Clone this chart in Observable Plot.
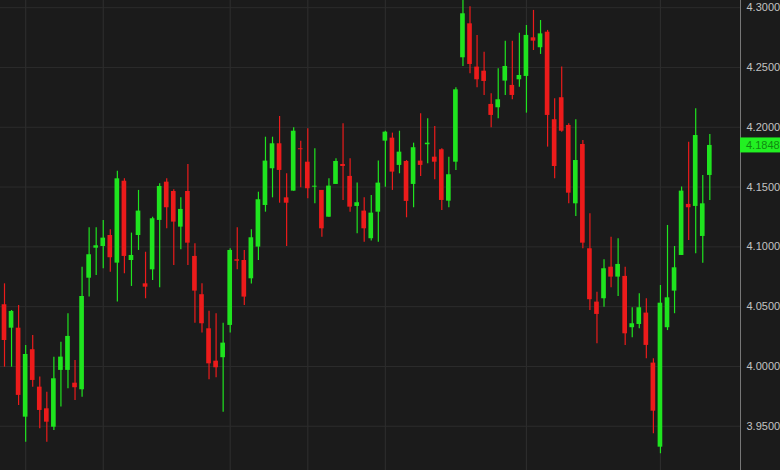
<!DOCTYPE html>
<html>
<head>
<meta charset="utf-8">
<script src="https://cdn.jsdelivr.net/npm/d3@7"></script>
<script src="https://cdn.jsdelivr.net/npm/@observablehq/plot@0.6"></script>
<style>
  html, body { margin: 0; padding: 0; background: #1b1b1b; }
  #chart { width: 780px; height: 470px; overflow: hidden; }
</style>
</head>
<body>
<div id="chart"></div>
<script>
// OHLC candles (oldest to newest)
const opens = [4.0516,4.0320,4.0320,3.9576,4.0140,3.9827,3.9646,3.9492,3.9967,3.9967,
  3.9860,3.9805,4.0738,4.0989,4.1003,4.1095,4.0864,4.1549,4.0886,4.1095,
  4.0691,4.0808,4.1221,4.1541,4.1463,4.1165,4.1463,4.0920,4.0600,4.0315,
  4.0044,4.0073,4.0343,4.0892,4.0886,4.0733,4.0998,4.1346,4.1653,4.1862,
  4.1410,4.1466,4.1820,4.1708,4.1499,4.1472,4.1248,4.1522,4.1689,4.1589,
  4.1338,4.1299,4.1068,4.1290,4.1884,4.1909,4.1681,4.1714,4.1522,4.1717,
  4.1854,4.1750,4.1812,4.1382,4.1708,4.2581,4.2865,4.2503,4.2469,4.2191,
  4.2163,4.2386,4.2350,4.2397,4.2425,4.2748,4.2665,4.2795,4.2063,4.2247,
  4.2015,4.1360,4.1856,4.0984,4.0538,4.0566,4.0830,4.0747,4.0753,4.0324,
  4.0351,4.0446,4.0028,3.9325,4.0324,4.0630,4.0928,4.1355,4.1338,4.1087,
  4.1597];
const highs = [4.0691,4.0468,4.0510,4.0176,4.0259,3.9911,3.9785,4.0078,4.0203,4.0441,
  4.0050,4.0830,4.1160,4.1160,4.1220,4.1143,4.1633,4.1570,4.1115,4.1472,
  4.0955,4.1248,4.1528,4.1570,4.1477,4.1410,4.1689,4.1026,4.0691,4.0462,
  4.0441,4.0362,4.0984,4.1160,4.0970,4.1143,4.1457,4.1917,4.1917,4.2090,
  4.1611,4.1996,4.1884,4.1987,4.1820,4.1472,4.1570,4.1737,4.2029,4.1737,
  4.1533,4.1410,4.1430,4.1717,4.1967,4.1951,4.1967,4.1722,4.1867,4.2113,
  4.2071,4.2007,4.1820,4.1750,4.2330,4.3060,4.3008,4.2768,4.2628,4.2280,
  4.2489,4.2720,4.2720,4.2787,4.2851,4.2977,4.2893,4.2810,4.2238,4.2503,
  4.2029,4.2063,4.1890,4.1277,4.0621,4.0892,4.1081,4.1068,4.0830,4.0491,
  4.0608,4.0566,4.0064,4.0677,4.1179,4.1003,4.1500,4.1875,4.2155,4.1597,
  4.1940];
const lows = [3.9994,3.9994,3.9674,3.9367,3.9827,3.9479,3.9367,3.9465,3.9660,3.9813,
  3.9716,3.9743,4.0580,4.0761,4.0817,4.0788,4.0538,4.0775,4.0669,4.0970,
  4.0566,4.0719,4.0658,4.1151,4.0845,4.0976,4.0845,4.0362,4.0279,3.9889,
  3.9906,3.9618,4.0279,4.0808,4.0510,4.0690,4.0886,4.1290,4.1410,4.1365,
  4.1003,4.1466,4.1494,4.1402,4.1360,4.1081,4.1248,4.1522,4.1388,4.1290,
  4.1110,4.1039,4.1048,4.1039,4.1499,4.1472,4.1611,4.1243,4.1327,4.1589,
  4.1695,4.1561,4.1304,4.1327,4.1639,4.2508,4.2447,4.2330,4.2266,4.1996,
  4.2071,4.2266,4.2230,4.2335,4.2118,4.2642,4.2609,4.1834,4.1569,4.1959,
  4.1360,4.1254,4.0984,4.0468,4.0190,4.0496,4.0658,4.0585,4.0176,4.0240,
  4.0315,4.0064,3.9437,3.9270,4.0300,4.0441,4.0928,4.1054,4.0942,4.0864,
  4.1388];
const closes = [4.0217,4.0460,3.9758,4.0100,3.9883,3.9632,3.9534,3.9897,4.0078,4.0251,
  3.9822,4.0585,4.0934,4.1009,4.1073,4.0909,4.1569,4.0920,4.0928,4.1299,
  4.0663,4.1235,4.1505,4.1327,4.1207,4.1313,4.1031,4.0630,4.0357,4.0022,
  3.9989,4.0195,4.0970,4.0880,4.0580,4.1076,4.1394,4.1717,4.1862,4.1639,
  4.1365,4.1967,4.1812,4.1486,4.1507,4.1151,4.1508,4.1714,4.1672,4.1332,
  4.1369,4.1151,4.1282,4.1533,4.1959,4.1625,4.1792,4.1380,4.1829,4.1681,
  4.1867,4.1708,4.1388,4.1603,4.2313,4.2949,4.2525,4.2397,4.2383,4.2099,
  4.2230,4.2508,4.2266,4.2433,4.2768,4.2720,4.2781,4.2099,4.1672,4.1967,
  4.1449,4.1722,4.1031,4.0558,4.0435,4.0817,4.0747,4.0853,4.0273,4.0357,
  4.0491,4.0176,3.9626,4.0529,4.0574,4.0825,4.1466,4.1327,4.1931,4.1360,
  4.1848];
// price axis ticks
const priceTicks = [3.95, 4.00, 4.05, 4.10, 4.15, 4.20, 4.25, 4.30];
// candle indices where vertical (session) grid lines fall
const sessionBreaks = [3, 14, 32, 43, 54, 74, 93];

const UP = "#1fe41f", DOWN = "#ec1b1b";
const candles = opens.map((o, i) => ({
  i, open: o, high: highs[i], low: lows[i], close: closes[i],
  up: closes[i] >= o
}));
const last = candles[candles.length - 1];

const plot = Plot.plot({
  width: 780,
  height: 470,
  marginLeft: 0,
  marginRight: 40,
  marginTop: 0,
  marginBottom: 0,
  style: { background: "#1b1b1b", color: "#c2c2c2", fontFamily: "'Liberation Sans', Arial, sans-serif", fontSize: "11px" },
  x: { type: "linear", domain: [-0.567, 104.35], axis: null },
  y: { domain: [3.913, 4.306], axis: null },
  marks: [
    Plot.ruleY(priceTicks, { stroke: "#2c2c2c", strokeWidth: 1 }),
    Plot.ruleX(sessionBreaks, { stroke: "#2c2c2c", strokeWidth: 1.2 }),
    Plot.ruleX(candles, { x: "i", y1: "low", y2: "high", stroke: d => d.up ? UP : DOWN, strokeWidth: 1.2 }),
    Plot.rect(candles, {
      x1: d => d.i - 0.33, x2: d => d.i + 0.33,
      y1: "open", y2: "close",
      fill: d => d.up ? UP : DOWN
    }),
    Plot.frame({ anchor: "right", stroke: "#777777", strokeWidth: 1 }),
    Plot.axisY({
      anchor: "right", ticks: priceTicks, tickSize: 0, tickPadding: 6,
      tickFormat: d3.format(".4f"), fill: "#c2c2c2", fontSize: 11, textAnchor: "start"
    })
  ]
});

// last-price tag on the axis, positioned through Plot's y scale
const yPix = plot.scale("y").apply(last.close);
const xRight = plot.scale("x").range[1];
const svg = d3.select(plot);
const g = svg.append("g");
g.append("rect")
  .attr("x", xRight).attr("y", yPix - 7.5)
  .attr("width", 780 - xRight).attr("height", 15)
  .attr("fill", "#22f022");
g.append("text")
  .attr("x", xRight + 6).attr("y", yPix)
  .attr("dy", "0.35em")
  .attr("text-anchor", "start")
  .attr("fill", "#108a10")
  .attr("font-size", 11)
  .attr("font-family", "'Liberation Sans', Arial, sans-serif")
  .text(d3.format(".4f")(last.close));

document.getElementById("chart").appendChild(plot);
</script>
</body>
</html>
